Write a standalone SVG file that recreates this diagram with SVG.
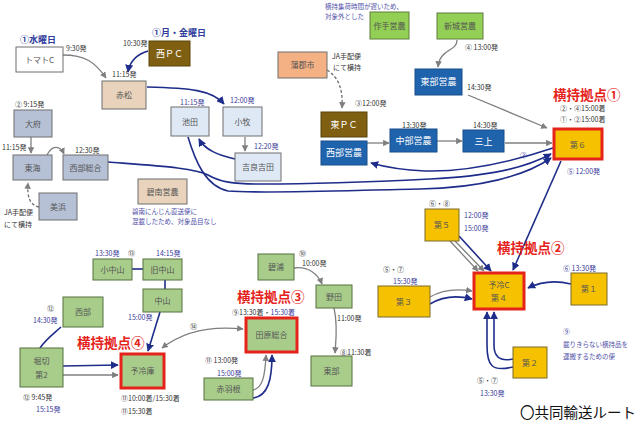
<svg xmlns="http://www.w3.org/2000/svg" width="640" height="429" viewBox="0 0 640 429">
<defs>
<style>
text{font-family:"Noto Sans CJK JP","Noto Sans",sans-serif}
.n{stroke:#6f6f6f;stroke-width:1}
.w{fill:#ffffff}.br{fill:#7f6012;stroke:#5a4508}.tan{fill:#e9d3bc}.lb{fill:#dfe9f6}.gb{fill:#b6c1d6}
.or{fill:#f4b183}.bl{fill:#1f63ad;stroke:#184f8c}.g1{fill:#92cf54;stroke:#5e7f3a}.g2{fill:#a8cd8b;stroke:#55703f}.gd{fill:#f5c100;stroke:#7a6a2a}
.red{stroke:#e5231b;stroke-width:3}
.lt{font-size:8px;fill:#555;text-anchor:middle}
.wt{font-size:9px;fill:#fff;text-anchor:middle}
.t{font-size:7px;fill:#333}
.tb{font-size:7px;fill:#3a3a9a}
.h{font-size:9px;font-weight:bold;fill:#2f3c9c}
.k{font-size:13.5px;font-weight:bold;fill:#e5231b}
.nt{font-size:6.5px;fill:#5050a8}
.cb{fill:none;stroke:#1f2d8a;stroke-width:1.6}
.cg{fill:none;stroke:#7f7f7f;stroke-width:1.3}
.dg{fill:none;stroke:#6f6f6f;stroke-width:1.3;stroke-dasharray:3 2}
</style>
<marker id="ab" viewBox="0 0 10 10" refX="9" refY="5" markerWidth="5" markerHeight="5" orient="auto-start-reverse"><path d="M0,0L10,5L0,10z" fill="#1f2d8a"/></marker>
<marker id="ag" viewBox="0 0 10 10" refX="9" refY="5" markerWidth="5" markerHeight="5" orient="auto-start-reverse"><path d="M0,0L10,5L0,10z" fill="#7f7f7f"/></marker>
</defs>
<rect width="640" height="429" fill="#fff"/>

<g id="connectors">
<path class="cg" d="M63,55 C85,55 95,62 106,78" marker-end="url(#ag)"/>
<path class="cb" d="M148,51 C138,54 130,60 128,72" marker-end="url(#ab)"/>
<path class="cb" d="M147,87 C190,88 212,90 224,104" marker-end="url(#ab)"/>
<path class="cg" d="M245,137 L245,151" marker-end="url(#ag)"/>
<path class="cb" d="M235,159 C218,155 205,150 199,139" marker-end="url(#ab)"/>
<path class="cb" d="M188,137 C195,160 205,186 228,191 C260,194 360,190 420,189 C480,188 525,176 551,158" marker-end="url(#ab)"/>
<path class="cb" d="M108,162 C160,166 195,168 208,175 C220,182 232,184 262,184 C330,184 390,181 430,179 C490,176 525,168 551,154" marker-end="url(#ab)"/>
<path class="cb" d="M553,148 C505,164 465,172 425,171 C400,170 385,167 371,163" marker-end="url(#ab)"/>
<path class="cg" d="M31,137 L31,153" marker-end="url(#ag)"/>
<path class="cg" d="M47,155 C52,145 60,145 64,154" marker-end="url(#ag)"/>
<path class="dg" d="M39,207 C30,205 27,198 28,183" marker-end="url(#ag)"/>
<path class="dg" d="M327,70 C340,78 343,92 342,108" marker-end="url(#ag)"/>
<path class="cg" d="M457,40 C457,52 440,48 438,67" marker-end="url(#ag)"/>
<path class="cg" d="M468,95 L547,128" marker-end="url(#ag)"/>
<path class="cg" d="M367,143 L389,143" marker-end="url(#ag)"/>
<path class="cg" d="M437,141 L462,141" marker-end="url(#ag)"/>
<path class="cg" d="M505,143 L552,143" marker-end="url(#ag)"/>
<path class="cb" d="M561,161 L513,270" stroke-width="1.2" marker-end="url(#ab)"/>
<path class="cg" d="M450,241 L478,271" marker-end="url(#ag)"/>
<path class="cg" d="M455,241 L484,271" marker-end="url(#ag)"/>
<path class="cb" d="M459,236 L491,271" marker-end="url(#ab)"/>
<path class="cg" d="M430,297 C445,288 460,289 472,291" marker-end="url(#ag)"/>
<path class="cb" d="M430,304 C445,295 460,296 472,299" marker-end="url(#ab)"/>
<path class="cb" d="M571,284 C555,280 540,282 528,288" marker-end="url(#ab)"/>
<path class="cb" d="M513,367 C492,372 487,366 487,345 L487,312" marker-end="url(#ab)"/>
<path class="cb" d="M513,359 C498,362 494,355 494,345 L494,312" marker-end="url(#ab)"/>
<path class="cb" d="M132,269 L143,269"/>
<path class="cb" d="M165,280 L165,289"/>
<path class="cb" d="M160,312 L148,351" marker-end="url(#ab)"/>
<path class="cb" d="M61,327 C52,335 45,340 40,348"/>
<path class="cb" d="M63,366 L118,365" marker-end="url(#ab)"/>
<path class="cg" d="M63,375 L118,375" marker-end="url(#ag)"/>
<path class="cg" d="M162,348 C185,330 215,326 243,329" marker-start="url(#ag)" marker-end="url(#ag)"/>
<path class="cg" d="M253,390 C262,388 265,378 266,355" marker-end="url(#ag)"/>
<path class="cb" d="M253,398 C268,396 272,380 272,355" marker-end="url(#ab)"/>
<path class="cg" d="M294,268 C308,266 318,274 322,284" marker-end="url(#ag)"/>
<path class="cg" d="M334,308 C338,325 336,340 335,353" marker-end="url(#ag)"/>
</g>

<g id="n-tomato"><rect class="n w" x="16" y="47" width="47" height="25"/><text class="lt" x="39.5" y="62.5">トマトC</text></g>
<g id="n-nishipc"><rect class="n br" x="149" y="41" width="41" height="25"/><text class="wt" x="169.5" y="57" font-size="8">西ＰＣ</text></g>
<g id="n-akamatsu"><rect class="n tan" x="102" y="81" width="44" height="28"/><text class="lt" x="124" y="98">赤松</text></g>
<g id="n-ikeda"><rect class="n lb" x="171" y="107" width="38" height="29"/><text class="lt" x="190" y="124.5">池田</text></g>
<g id="n-komaki"><rect class="n lb" x="223" y="107" width="39" height="29"/><text class="lt" x="242.5" y="124.5">小牧</text></g>
<g id="n-kira"><rect class="n lb" x="235" y="153" width="46" height="28"/><text class="lt" x="258" y="170">吉良吉田</text></g>
<g id="n-obu"><rect class="n gb" x="14" y="110" width="38" height="27"/><text class="lt" x="33" y="126.5">大府</text></g>
<g id="n-tokai"><rect class="n gb" x="13" y="155" width="39" height="25"/><text class="lt" x="32.5" y="170.5">東海</text></g>
<g id="n-seibusogo"><rect class="n gb" x="63" y="155" width="45" height="25"/><text class="lt" x="85.5" y="170.5">西部総合</text></g>
<g id="n-mihama"><rect class="n gb" x="39" y="193" width="38" height="27"/><text class="lt" x="58" y="209.5">美浜</text></g>
<g id="n-hekinan"><rect class="n tan" x="138" y="179" width="49" height="25"/><text class="lt" x="162.5" y="194.5">碧南営農</text></g>
<g id="n-gamagori"><rect class="n or" x="278" y="52" width="49" height="26"/><text class="lt" x="302.5" y="68">蒲郡市</text></g>
<g id="n-higashipc"><rect class="n br" x="321" y="112" width="46" height="25"/><text class="wt" x="344" y="128">東ＰＣ</text></g>
<g id="n-seibueino"><rect class="n bl" x="321" y="141" width="46" height="24"/><text class="wt" x="344" y="156" font-size="8">西部営農</text></g>
<g id="n-chubu"><rect class="n bl" x="390" y="129" width="47" height="23"/><text class="wt" x="413.5" y="144">中部営農</text></g>
<g id="n-mikami"><rect class="n bl" x="463" y="130" width="41" height="22"/><text class="wt" x="483.5" y="144.5">三上</text></g>
<g id="n-tsukude"><rect class="n g1" x="370" y="12" width="39" height="27"/><text class="lt" x="389.5" y="28.5">作手営農</text></g>
<g id="n-shinshiro"><rect class="n g1" x="437" y="13" width="46" height="26"/><text class="lt" x="460" y="29">新城営農</text></g>
<g id="n-tobueino"><rect class="n bl" x="415" y="69" width="47" height="26"/><text class="wt" x="438.5" y="85">東部営農</text></g>
<g id="n-dai6"><rect class="gd red" x="554" y="129" width="48" height="30"/><text class="lt" x="578" y="147.5">第６</text></g>
<g id="n-dai5"><rect class="n gd" x="425" y="209" width="34" height="32"/><text class="lt" x="442" y="228">第５</text></g>
<g id="n-yoreic"><rect class="gd red" x="474" y="273" width="50" height="36"/><text class="lt" x="499" y="288">予冷C</text><text class="lt" x="499" y="301">第４</text></g>
<g id="n-dai3"><rect class="n gd" x="378" y="286" width="52" height="31"/><text class="lt" x="404" y="304.5">第３</text></g>
<g id="n-dai1"><rect class="n gd" x="571" y="273" width="36" height="32"/><text class="lt" x="589" y="292">第１</text></g>
<g id="n-dai2"><rect class="n gd" x="513" y="347" width="34" height="31"/><text class="lt" x="530" y="365.5">第２</text></g>
<g id="n-konakayama"><rect class="n g2" x="93" y="259" width="39" height="21"/><text class="lt" x="112.5" y="272.5">小中山</text></g>
<g id="n-kyunakayama"><rect class="n g2" x="143" y="259" width="39" height="21"/><text class="lt" x="162.5" y="272.5">旧中山</text></g>
<g id="n-nakayama"><rect class="n g2" x="143" y="289" width="39" height="23"/><text class="lt" x="162.5" y="303.5">中山</text></g>
<g id="n-seibu"><rect class="n g2" x="63" y="297" width="40" height="30"/><text class="lt" x="83" y="315">西部</text></g>
<g id="n-horikiri"><rect class="n g2" x="20" y="348" width="43" height="39"/><text class="lt" x="41.5" y="364">堀切</text><text class="lt" x="41.5" y="378">第2</text></g>
<g id="n-yoreiko"><rect class="g2 red" x="121" y="354" width="43" height="34"/><text class="lt" x="142.5" y="374">予冷庫</text></g>
<g id="n-hekiura"><rect class="n g2" x="258" y="254" width="36" height="26"/><text class="lt" x="276" y="270">碧浦</text></g>
<g id="n-noda"><rect class="n g2" x="316" y="285" width="36" height="23"/><text class="lt" x="334" y="299.5">野田</text></g>
<g id="n-tobu"><rect class="n g2" x="311" y="356" width="41" height="30"/><text class="lt" x="331.5" y="374">東部</text></g>
<g id="n-tahara"><rect class="g2 red" x="246" y="318" width="51" height="34"/><text class="lt" x="271.5" y="338">田原総合</text></g>
<g id="n-akabane"><rect class="n g2" x="204" y="378" width="49" height="22"/><text class="lt" x="228.5" y="392">赤羽根</text></g>

<g id="labels">
<text class="h" x="20" y="43">①水曜日</text>
<text class="h" x="152" y="36">①月・金曜日</text>
<text class="t" x="66" y="51">9:30発</text>
<text class="t" x="123" y="46">10:30発</text>
<text class="t" x="112" y="77">11:15発</text>
<text class="tb" x="180" y="105">11:15発</text>
<text class="tb" x="230" y="103">12:00発</text>
<text class="tb" x="254" y="149">12:20発</text>
<text class="t" x="15" y="107">② 9:15発</text>
<text class="t" x="2" y="150">11:15発</text>
<text class="t" x="75" y="153">12:30発</text>
<text class="t" x="4" y="215">JA手配便</text>
<text class="t" x="4" y="227">にて横持</text>
<text class="nt" x="132" y="214">碧南にんじん直送便に</text>
<text class="nt" x="132" y="224">混載したため、対象品目なし</text>
<text class="nt" x="325" y="9">横持集荷時間が遅いため、</text>
<text class="nt" x="325" y="19">対象外とした</text>
<text class="t" x="332" y="59">JA手配便</text>
<text class="t" x="333" y="70">にて横持</text>
<text class="t" x="355" y="106">③12:00発</text>
<text class="t" x="465" y="50">④ 13:00発</text>
<text class="t" x="467" y="90">14:30発</text>
<text class="t" x="402" y="128">13:30発</text>
<text class="t" x="473" y="128">14:30発</text>
<text class="k" x="553" y="100" font-size="14.5">横持拠点①</text>
<text class="t" x="560" y="111">②・④15:00着</text>
<text class="t" x="560" y="122">①・②15:00着</text>
<text class="tb" x="520" y="158">③</text>
<text class="tb" x="567" y="174">⑤ 12:00発</text>
<text class="t" x="429" y="206">⑥・⑧</text>
<text class="tb" x="464" y="218">12:00発</text>
<text class="tb" x="464" y="231">15:00発</text>
<text class="k" x="497" y="253">横持拠点②</text>
<text class="t" x="383" y="272">⑤・⑦</text>
<text class="tb" x="393" y="284">15:30発</text>
<text class="tb" x="563" y="271">⑥ 13:30発</text>
<text class="tb" x="563" y="334">⑨</text>
<text class="nt" x="563" y="347">載りきらない横持品を</text>
<text class="nt" x="563" y="359">運搬するための便</text>
<text class="t" x="477" y="383">⑤・⑦</text>
<text class="tb" x="480" y="396">13:30発</text>
<text x="520" y="418" font-size="14.5" fill="#111">〇共同輸送ルート</text>
<text class="tb" x="95" y="256">13:30発</text>
<text class="t" x="128" y="256">⑬</text>
<text class="tb" x="156" y="256">14:15発</text>
<text class="tb" x="128" y="320">15:00発</text>
<text class="t" x="47" y="311">⑫</text>
<text class="tb" x="33" y="323">14:30発</text>
<text class="k" x="77" y="348">横持拠点④</text>
<text class="t" x="23" y="400">⑫ 9:45発</text>
<text class="tb" x="36" y="412">15:15発</text>
<text class="t" x="121" y="401">⑪10:00着/15:30着</text>
<text class="t" x="121" y="414">⑪15:30着</text>
<text class="t" x="190" y="329">⑭</text>
<text class="k" x="237" y="302">横持拠点③</text>
<text class="t" x="232" y="315">⑨13:30着・<tspan fill="#3a3a9a">15:30着</tspan></text>
<text class="t" x="299" y="256">⑩</text>
<text class="t" x="302" y="266">10:00発</text>
<text class="t" x="337" y="321">11:00発</text>
<text class="t" x="340" y="355">⑧11:30着</text>
<text class="t" x="205" y="363">⑪ 13:00発</text>
<text class="tb" x="217" y="376">15:00発</text>
</g>
</svg>
